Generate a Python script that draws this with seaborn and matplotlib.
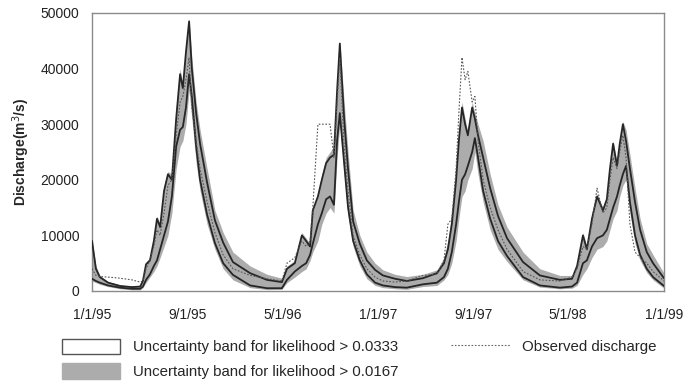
import matplotlib
matplotlib.use("Agg")
import matplotlib.pyplot as plt
from matplotlib.patches import Patch
from matplotlib.lines import Line2D
import pandas as pd
import seaborn as sns

# ---------------- data ----------------
dates = [
    "1995-01-01", "1995-01-11", "1995-01-21", "1995-02-11", "1995-03-14", "1995-04-13",
    "1995-05-04", "1995-05-11", "1995-05-19", "1995-05-29", "1995-06-08", "1995-06-16",
    "1995-06-24", "1995-07-04", "1995-07-14", "1995-07-24", "1995-08-04", "1995-08-14",
    "1995-08-21", "1995-08-29", "1995-09-06", "1995-09-13", "1995-09-24", "1995-10-04",
    "1995-10-22", "1995-11-11", "1995-12-02", "1995-12-27", "1996-02-09", "1996-03-23",
    "1996-04-30", "1996-05-13", "1996-06-02", "1996-06-20", "1996-07-01", "1996-07-11",
    "1996-07-18", "1996-07-31", "1996-08-10", "1996-08-21", "1996-08-31", "1996-09-10",
    "1996-09-18", "1996-09-25", "1996-10-06", "1996-10-16", "1996-10-29", "1996-11-15",
    "1996-12-03", "1996-12-24", "1997-01-13", "1997-02-13", "1997-03-15", "1997-04-25",
    "1997-05-31", "1997-06-18", "1997-06-28", "1997-07-08", "1997-07-19", "1997-07-26",
    "1997-08-03", "1997-08-11", "1997-08-18", "1997-08-29", "1997-09-05", "1997-09-13",
    "1997-09-26", "1997-10-14", "1997-11-03", "1997-11-26", "1998-01-06", "1998-02-18",
    "1998-04-10", "1998-05-11", "1998-05-24", "1998-06-08", "1998-06-18", "1998-07-01",
    "1998-07-14", "1998-07-29", "1998-08-08", "1998-08-16", "1998-08-24", "1998-09-03",
    "1998-09-10", "1998-09-18", "1998-09-26", "1998-10-06", "1998-10-19", "1998-11-01",
    "1998-11-18", "1998-12-04", "1999-01-01",
]

# gray band: likelihood > 0.0167 (upper / lower)
band2_upper = [
    9500, 4500, 2800, 1700, 1100, 900, 900, 2000, 5200, 6000, 9500, 13500,
    12000, 19000, 21500, 21000, 33000, 40000, 37000, 44000, 49000, 42000,
    34000, 29000, 22000, 14500, 10500, 7000, 4500, 3000, 2300,
    4500, 5500, 10500, 9500, 8500, 15000, 17500, 21000, 24000, 25000, 26000, 38000, 45000,
    34000, 25000, 14500, 10000, 7000, 5000, 3800, 3000, 2600,
    3000, 3800, 6000, 9000, 14000, 22000, 29000, 34000, 31000, 28500, 34000, 32000, 30000,
    27000, 21000, 15500, 11500, 7000, 4000, 2800,
    2800, 5000, 10500, 8000, 14000, 17500, 15000, 17000, 22500, 27000, 23000, 27000, 30500, 29000,
    24500, 18500, 13000, 8500, 6500, 3200,
]
band2_lower = [
    1800, 1500, 1200, 800, 400, 200, 200, 600, 1500, 2500, 3500, 4500,
    6000, 8000, 10000, 14000, 22000, 26000, 27000, 30000, 36000, 31000,
    23000, 18000, 12000, 7500, 4000, 2000, 600, 250, 300,
    1500, 2500, 3500, 4000, 5500, 7000, 9000, 12000, 14000, 15000, 14000, 24000, 30000,
    21000, 13500, 8000, 4500, 2200, 1000, 600, 400, 300,
    800, 1000, 2000, 3000, 5000, 9000, 13000, 17000, 18000, 20000, 22000, 25000, 21000,
    16000, 11000, 7500, 5300, 2000, 700, 400,
    500, 1000, 3000, 4000, 6000, 7500, 8000, 9000, 11000, 13000, 14500, 17000, 19000, 20000,
    14000, 8500, 5500, 3300, 2000, 500,
]

# black lines: likelihood > 0.0333 (upper / lower)
band1_upper = [
    9000, 4000, 2500, 1500, 900, 700, 800, 1800, 4800, 5500, 9000, 13000,
    11500, 18000, 21000, 20000, 31000, 39000, 36500, 43000, 48500, 40000,
    32000, 26500, 19500, 12700, 8700, 5200, 3200, 2000, 1600,
    4000, 5000, 10000, 9000, 8000, 14500, 17000, 20000, 23000, 24000, 24500, 36000, 44500,
    31000, 22000, 12500, 8500, 5500, 3800, 2800, 2200, 1800,
    2300, 3200, 5000, 7500, 12000, 20000, 27000, 33000, 30000, 28000, 33000, 31000, 28000,
    24000, 18500, 13500, 9500, 5200, 2800, 2000,
    2200, 4500, 10000, 7500, 13000, 17000, 14500, 16500, 22000, 26500, 22500, 26500, 30000, 27000,
    22000, 16000, 11000, 7000, 5000, 2300,
]
band1_lower = [
    2200, 1800, 1500, 1000, 600, 400, 400, 800, 2000, 3000, 4500, 5500,
    7500, 10000, 12500, 17000, 26000, 29000, 29500, 33000, 39000, 35000,
    26000, 20000, 13700, 8600, 5000, 2900, 1000, 500, 500,
    2000, 3500, 4500, 5000, 6500, 8500, 12000, 14000, 16500, 17000, 15500, 27000, 32000,
    23000, 15000, 9000, 5500, 3000, 1500, 1000, 700, 600,
    1200, 1500, 2500, 4000, 7000, 12000, 16000, 20000, 21000, 22500, 25000, 27500, 24000,
    18000, 13000, 9000, 6300, 2500, 1000, 600,
    800, 1500, 5000, 5500, 8000, 9500, 10000, 11000, 13000, 15000, 17000, 19000, 21000, 22500,
    16000, 10000, 6500, 4000, 2500, 900,
]

observed = [
    4000, 2800, 2600, 2500, 2300, 2000, 1600, 1800, 4000, 5500, 8000, 11000,
    10000, 14000, 19000, 20000, 28000, 34000, 35000, 38000, 42000, 33000,
    27000, 22000, 16000, 10500, 6500, 4000, 2800, 2200, 1800,
    5000, 6000, 9000, 8000, 9000, 15000, 30000, 30000, 30000, 30000, 24000, 34000, 42000,
    26000, 18000, 10000, 6500, 4000, 2500, 1800, 1600, 1800,
    2800, 3000, 5500, 12000, 13000, 22000, 32000, 42000, 38000, 39500, 34000, 35000, 27000,
    20000, 15000, 11000, 7500, 3500, 2000, 1800,
    2500, 4000, 8000, 7500, 12000, 18500, 14000, 15000, 20000, 24000, 22000, 25000, 28000, 24000,
    12000, 7000, 6000, 5000, 3500, 1800,
]

tick_dates = ["1995-01-01", "1995-09-01", "1996-05-01", "1997-01-01",
              "1997-09-01", "1998-05-01", "1999-01-01"]
tick_labels = ["1/1/95", "9/1/95", "5/1/96", "1/1/97", "9/1/97", "5/1/98", "1/1/99"]
y_ticks = [0, 10000, 20000, 30000, 40000, 50000]

legend_labels = ["Uncertainty band for likelihood > 0.0333",
                 "Uncertainty band for likelihood > 0.0167",
                 "Observed discharge"]

# ---------------- plotting ----------------
sns.set_style("white")
plt.rcParams["font.family"] = ["Liberation Sans", "DejaVu Sans"]

df = pd.DataFrame({
    "date": pd.to_datetime(dates),
    "b2u": band2_upper, "b2l": band2_lower,
    "b1u": band1_upper, "b1l": band1_lower,
    "obs": observed,
})

fig = plt.figure(figsize=(6.99, 3.87), dpi=100)
ax = fig.add_axes([92 / 699, 1 - 291 / 387, 572 / 699, 278 / 387])

gray = "#acacac"
ax.fill_between(df["date"], df["b2l"], df["b2u"], color=gray, lw=0, zorder=1)
sns.lineplot(data=df, x="date", y="b1u", ax=ax, color="#262626", lw=1.3, zorder=3)
sns.lineplot(data=df, x="date", y="b1l", ax=ax, color="#262626", lw=1.3, zorder=3)
sns.lineplot(data=df, x="date", y="obs", ax=ax, color="#555555", lw=0.8,
             linestyle=(0, (1.5, 1.5)), zorder=4)

ax.set_xlim(pd.Timestamp("1995-01-01"), pd.Timestamp("1999-01-01"))
ax.set_ylim(0, 50000)
ax.set_xticks(pd.to_datetime(tick_dates))
ax.set_xticklabels(tick_labels)
ax.set_yticks(y_ticks)
ax.set_yticklabels([str(v) for v in y_ticks])
ax.tick_params(axis="x", length=0, pad=12, labelsize=10, colors="#222222")
ax.tick_params(axis="y", length=0, pad=9, labelsize=10, colors="#222222")
ax.set_xlabel("")
ax.set_ylabel("Discharge(m$^3$/s)", fontsize=10, fontweight="bold", labelpad=6)

for s in ax.spines.values():
    s.set_visible(True)
    s.set_color("#8a8a8a")
    s.set_linewidth(1.0)

handles = [
    Patch(facecolor="white", edgecolor="#555555", linewidth=1.0),
    Patch(facecolor=gray, edgecolor=gray),
    Line2D([0], [0], color="#666666", lw=0.8, linestyle=(0, (1.5, 1.5))),
]
fig.legend(handles, legend_labels, ncol=2, loc="upper left",
           bbox_to_anchor=(54 / 699, 1 - 331 / 387), frameon=False,
           fontsize=10.8, borderpad=0, handlelength=3.9, handleheight=1.25,
           handletextpad=0.85, labelspacing=0.6, columnspacing=3.53)

fig.savefig("out.png", dpi=100)
